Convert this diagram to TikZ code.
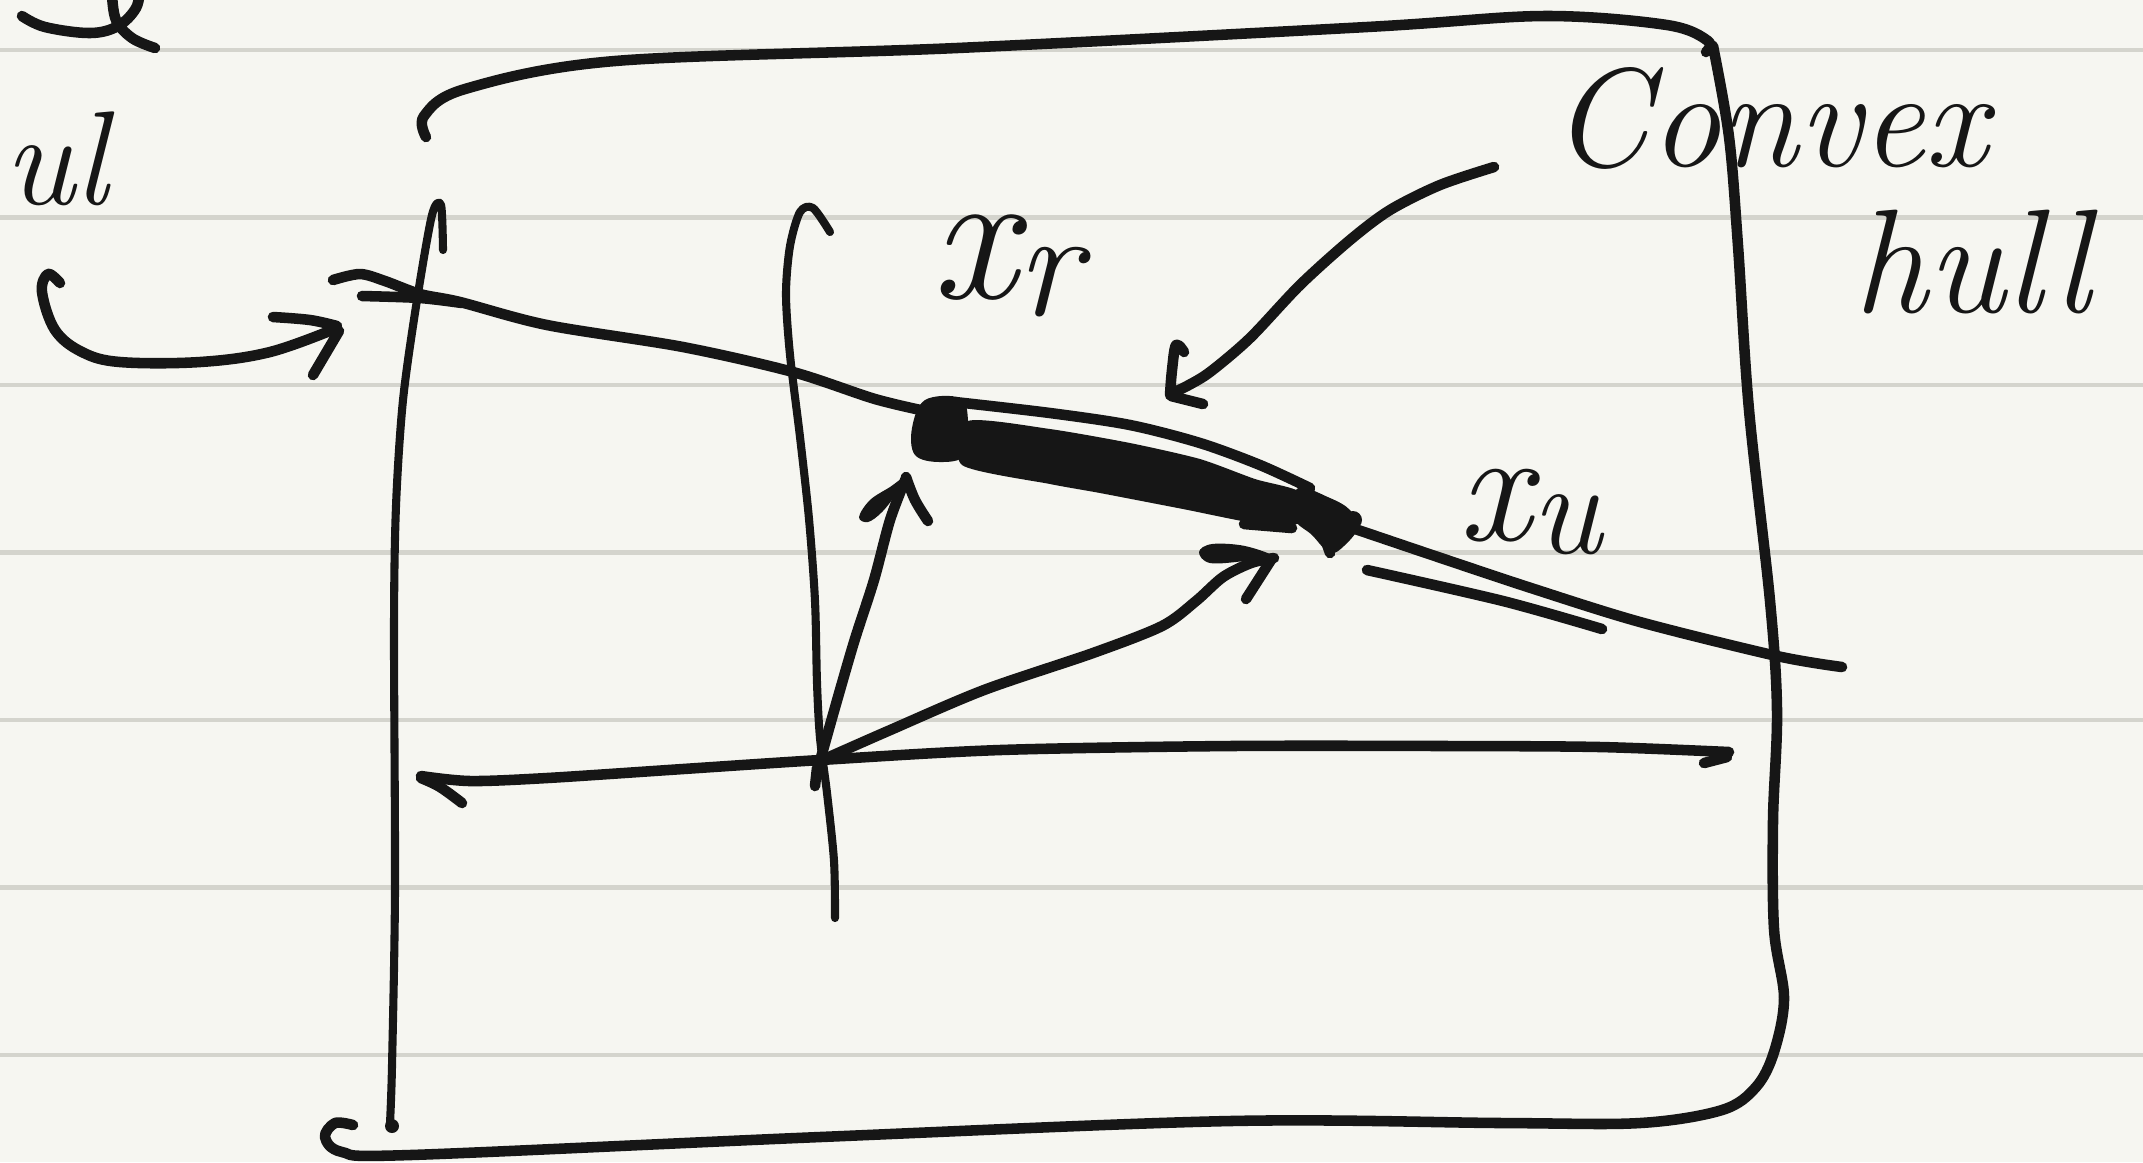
\documentclass[tikz,border=0pt]{standalone}
\usepackage{fontspec}
\definecolor{inkc}{HTML}{161616}
\definecolor{paperc}{HTML}{F6F6F1}
\definecolor{rulec}{HTML}{D4D4CD}
\begin{document}
\begin{tikzpicture}[x=0.01cm,y=-0.01cm,line cap=round,line join=round,
  ink/.style={draw=inkc,line width=3.0pt},
  thinink/.style={draw=inkc,line width=2.3pt},
  ruleline/.style={draw=rulec,line width=1.2pt},
  lbl/.style={text=inkc,inner sep=0pt}]
\useasboundingbox (0,0) rectangle (2143,1162);
\fill[paperc] (0,0) rectangle (2143,1162);
\clip (0,0) rectangle (2143,1162);
\foreach \yy in {50,217.5,385,552.5,720,887.5,1055} \draw[ruleline] (0,\yy) -- (2143,\yy);

% cut-off handwriting at top left
\draw[ink] plot[smooth,tension=0.6] coordinates {(22,16) (45,27) (90,33) (118,26) (136,8) (140,-12)};
\draw[ink] plot[smooth,tension=0.6] coordinates {(112,-6) (116,20) (132,38) (155,48)};
\node[lbl,anchor=base west,font=\fontsize{38}{42}\selectfont\itshape] (ul) at (4,204) {ul};

% convex hull outline
\draw[ink] plot[smooth,tension=0.55] coordinates {(426,137) (424,116) (465,89) (615,61) (957,48) (1367,27) (1544,16) (1667,25) (1708,41) (1706,52)};
\draw[ink] plot[smooth,tension=0.55] coordinates {(1713,46) (1729,137) (1738,246) (1749,410) (1770,601) (1777,711) (1773,820) (1774,929) (1784,998) (1774,1052) (1756,1087) (1722,1110) (1640,1123) (1503,1123) (1230,1121) (820,1137) (410,1155) (342,1152) (325,1137) (335,1123) (353,1125)};

% left vertical line
\draw[thinink] plot[smooth,tension=0.5] coordinates {(443,250) (441,205) (432,215) (417,300) (403,400) (396,506) (394,629) (395,888) (392,1066) (390,1123)};
\fill[inkc] (392,1126) circle (7);

% left curved arrow
\draw[ink] plot[smooth,tension=0.6] coordinates {(60,283) (48,274) (42,292) (55,330) (82,352) (120,362) (200,362) (270,352) (337,328)};
\draw[ink] plot[smooth,tension=0.6] coordinates {(273,317) (310,320) (337,326)};
\draw[ink] (339,331) -- (313,375);

% long upper line
\draw[ink] plot[smooth,tension=0.5] coordinates {(333,280) (360,274) (385,281) (420,294) (460,302) (547,325) (683,347) (793,372) (875,399) (930,412)};
\draw[ink] plot[smooth,tension=0.5] coordinates {(362,296) (420,298) (462,303)};
\draw[ink] plot[smooth,tension=0.5] coordinates {(1340,524) (1367,533) (1435,556) (1531,588) (1640,622) (1777,656) (1842,667)};
\draw[ink] plot[smooth,tension=0.5] coordinates {(1367,570) (1503,601) (1602,629)};

% middle vertical line
\draw[thinink] plot[smooth,tension=0.5] coordinates {(830,232) (813,208) (800,212) (790,246) (786,294) (790,355) (800,437) (809,519) (815,601) (817,683) (820,738) (827,793) (834,861) (835,918)};

% horizontal arrow to the left
\draw[ink] plot[smooth,tension=0.5] coordinates {(1729,752) (1600,747) (1450,746) (1230,746) (1000,750) (820,760) (683,769) (547,778) (470,781) (421,776)};
\draw[ink] (1704,763) -- (1727,757);
\draw[ink] plot[smooth,tension=0.6] coordinates {(421,778) (440,787) (462,803)};
\draw[ink] (817,768) -- (815,786);

% arrow up to the segment
\draw[ink] plot[smooth,tension=0.5] coordinates {(820,761) (834,711) (854,642) (874,580) (890,520) (906,478)};
\draw[ink] plot[smooth,tension=0.6] coordinates {(906,477) (915,500) (928,521)};
\fill[inkc] plot[smooth cycle,tension=0.6] coordinates {(905,477) (890,487) (870,500) (859,517) (868,522) (882,512) (896,494)};

% arrow to the right point
\draw[ink] plot[smooth,tension=0.5] coordinates {(820,761) (888,731) (984,690) (1093,653) (1162,626) (1196,601) (1223,577) (1251,563) (1274,558)};
\fill[inkc] plot[smooth cycle,tension=0.6] coordinates {(1274,557) (1245,546) (1212,544) (1199,552) (1210,563) (1245,561)};
\draw[ink] (1271,560) -- (1246,599);

% convex hull of the two points (thick segment)
\draw[ink] plot[smooth,tension=0.5] coordinates {(955,402) (1050,413) (1130,425) (1200,443) (1260,465) (1310,488)};
\fill[inkc] plot[smooth cycle,tension=0.4] coordinates {(968,421) (1050,429) (1130,443) (1200,459) (1255,479) (1300,492) (1304,522) (1260,524) (1183,509) (1100,493) (1050,484) (962,465)};
\fill[inkc] plot[smooth cycle,tension=0.6] coordinates {(925,400) (960,398) (968,420) (965,455) (940,462) (915,455) (912,428)};
\fill[inkc] plot[smooth cycle,tension=0.6] coordinates {(1298,488) (1330,498) (1350,510) (1358,527) (1345,545) (1330,553) (1312,535) (1294,518)};
\draw[ink] (1322,530) -- (1330,553);
\fill[inkc] (1353,520) circle (9);
\draw[ink] (1244,524) -- (1292,528);

% arrow from "Convex hull"
\draw[ink] plot[smooth,tension=0.5] coordinates {(1494,167) (1440,185) (1390,210) (1350,240) (1300,285) (1250,338) (1210,372) (1187,386) (1172,393)};
\draw[ink] plot[smooth,tension=0.6] coordinates {(1170,395) (1172,370) (1176,345) (1184,352)};
\draw[ink] (1171,396) -- (1203,404);

% labels
\node[lbl,font=\fontsize{40}{44}\selectfont\itshape] (convex) at (1770,118) {Convex};
\node[lbl,font=\fontsize{42}{46}\selectfont\itshape] (hull) at (1972,262) {hull};
\node[lbl,font=\fontsize{54}{60}\selectfont\itshape] (xr) at (1006,266) {x\raisebox{-0.2ex}{\fontsize{44}{48}\selectfont r}};
\node[lbl,font=\fontsize{46}{50}\selectfont\itshape] (xu) at (1530,512) {x\raisebox{-0.2ex}{\fontsize{38}{42}\selectfont u}};
\end{tikzpicture}
\end{document}
